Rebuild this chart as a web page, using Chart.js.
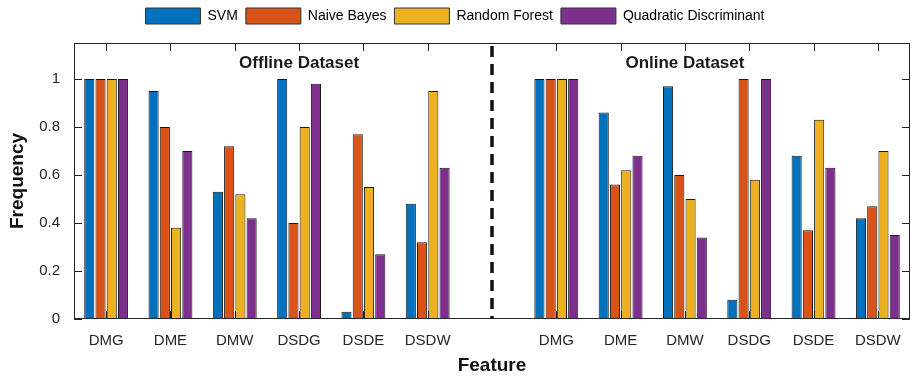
<!DOCTYPE html>
<html>
<head>
<meta charset="utf-8">
<script src="https://cdn.jsdelivr.net/npm/chart.js@4"></script>
<style>
  html, body { margin: 0; padding: 0; background: #fff; }
  #wrap { width: 912px; height: 377px; }
</style>
</head>
<body>
<div id="wrap"><canvas id="freqChart" width="912" height="377"></canvas></div>
<script>
// features: 6 offline, one empty slot for the divider, 6 online
let features = ['DMG', 'DME', 'DMW', 'DSDG', 'DSDE', 'DSDW', '', 'DMG', 'DME', 'DMW', 'DSDG', 'DSDE', 'DSDW'];

let svm       = [1.00, 0.95, 0.53, 1.00, 0.03, 0.48, null, 1.00, 0.86, 0.97, 0.08, 0.68, 0.42];
let naiveBayes = [1.00, 0.80, 0.72, 0.40, 0.77, 0.32, null, 1.00, 0.56, 0.60, 1.00, 0.37, 0.47];
let randForest = [1.00, 0.38, 0.52, 0.80, 0.55, 0.95, null, 1.00, 0.62, 0.50, 0.58, 0.83, 0.70];
let quadDisc  = [1.00, 0.70, 0.42, 0.98, 0.27, 0.63, null, 1.00, 0.68, 0.34, 1.00, 0.63, 0.35];

let yTicks = [0, 0.2, 0.4, 0.6, 0.8, 1];
let dividerIndex = 6;
let groupTitles = [
  { text: 'Offline Dataset', at: 3, y: 1.065 },
  { text: 'Online Dataset', at: 9, y: 1.065 }
];

const AXIS = '#262626';
const FONT = "'Liberation Sans', Arial, Helvetica, sans-serif";

function makeSet(label, data, color) {
  return {
    label: label,
    data: data,
    backgroundColor: color,
    borderColor: '#1a1a1a',
    borderWidth: 1,
    borderSkipped: 'bottom',
    categoryPercentage: 0.7,
    barPercentage: 0.9
  };
}

// give the legend a bit more room under it (MATLAB puts the axes lower)
const legendGap = {
  id: 'legendGap',
  beforeLayout(chart) {
    const lg = chart.legend;
    if (!lg || lg._gapPatched) return;
    const fit = lg.fit;
    lg.fit = function () {
      fit.call(this);
      this.height += 9;
    };
    lg._gapPatched = true;
  }
};

// ticks pointing inward, box around axes, divider and the two titles
const matlabAxes = {
  id: 'matlabAxes',
  beforeDatasetsDraw(chart) {
    const {ctx, chartArea: a, scales: {x, y}} = chart;
    ctx.save();
    ctx.strokeStyle = AXIS;
    ctx.lineWidth = 1;
    ctx.beginPath();
    yTicks.forEach(v => {
      const py = Math.round(y.getPixelForValue(v)) + 0.5;
      ctx.moveTo(a.left, py); ctx.lineTo(a.left + 8, py);
      ctx.moveTo(a.right, py); ctx.lineTo(a.right - 8, py);
    });
    features.forEach((f, i) => {
      if (i === dividerIndex) return;
      const px = Math.round(x.getPixelForValue(i)) + 0.5;
      ctx.moveTo(px, a.top); ctx.lineTo(px, a.top + 8);
      ctx.moveTo(px, a.bottom); ctx.lineTo(px, a.bottom - 8);
    });
    ctx.stroke();
    ctx.restore();
  },
  afterDatasetsDraw(chart) {
    const {ctx, chartArea: a, scales: {x, y}} = chart;
    ctx.save();
    ctx.strokeStyle = AXIS;
    ctx.lineWidth = 1;
    ctx.strokeRect(a.left + 0.5, a.top + 0.5, a.right - a.left - 1, a.bottom - a.top - 1);

    const dx = x.getPixelForValue(dividerIndex);
    ctx.strokeStyle = '#111';
    ctx.lineWidth = 3.5;
    ctx.setLineDash([11, 7]);
    ctx.beginPath();
    ctx.moveTo(dx, a.top + 3);
    ctx.lineTo(dx, a.bottom);
    ctx.stroke();
    ctx.setLineDash([]);

    ctx.fillStyle = '#1a1a1a';
    ctx.font = 'bold 17px ' + FONT;
    ctx.textAlign = 'center';
    ctx.textBaseline = 'middle';
    groupTitles.forEach(t => {
      ctx.fillText(t.text, x.getPixelForValue(t.at), y.getPixelForValue(t.y));
    });
    ctx.restore();
  }
};

new Chart(document.getElementById('freqChart').getContext('2d'), {
  type: 'bar',
  data: {
    labels: features,
    datasets: [
      makeSet('SVM', svm, '#0072BD'),
      makeSet('Naive Bayes', naiveBayes, '#D95319'),
      makeSet('Random Forest', randForest, '#EDB120'),
      makeSet('Quadratic Discriminant', quadDisc, '#7E2F8E')
    ]
  },
  options: {
    responsive: false,
    animation: false,
    layout: { padding: { left: 0, right: 2, top: 0, bottom: 0 } },
    plugins: {
      tooltip: { enabled: false },
      legend: {
        position: 'top',
        align: 'center',
        labels: {
          boxWidth: 55,
          boxHeight: 16,
          padding: 8,
          color: '#111',
          font: { family: FONT, size: 14 },
          generateLabels(chart) {
            return chart.data.datasets.map((d, i) => ({
              text: d.label,
              fillStyle: d.backgroundColor,
              strokeStyle: '#333',
              lineWidth: 1,
              datasetIndex: i
            }));
          }
        }
      }
    },
    scales: {
      x: {
        grid: { display: false },
        border: { display: false },
        ticks: { color: AXIS, font: { family: FONT, size: 15 }, padding: 5, maxRotation: 0, autoSkip: false },
        title: { display: true, text: 'Feature', color: '#111', font: { family: FONT, size: 19, weight: 'bold' }, padding: { top: 0, bottom: 0 } },
        afterFit(scale) { scale.height = 58; }
      },
      y: {
        min: 0,
        max: 1.15,
        grid: { display: false },
        border: { display: false },
        ticks: {
          stepSize: 0.2,
          includeBounds: false,
          color: AXIS,
          padding: 6,
          font: { family: FONT, size: 15 },
          callback: v => String(+v.toFixed(1))
        },
        title: { display: true, text: 'Frequency', color: '#111', font: { family: FONT, size: 19, weight: 'bold' }, padding: { top: 6, bottom: 0 } },
        afterFit(scale) { scale.width = 74; }
      }
    }
  },
  plugins: [legendGap, matlabAxes]
});
</script>
</body>
</html>
